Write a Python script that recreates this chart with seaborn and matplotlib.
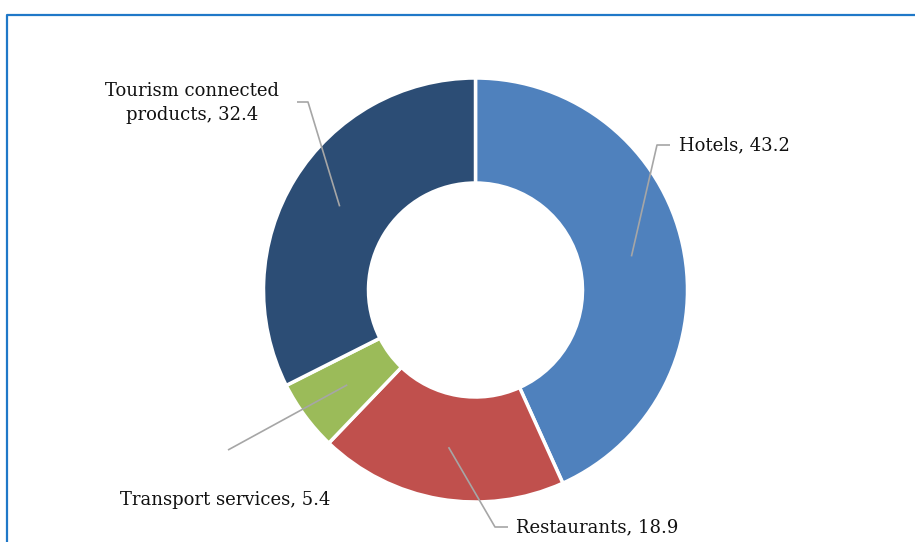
import numpy as np
import matplotlib
matplotlib.use('Agg')
import matplotlib.pyplot as plt
import seaborn as sns

# Chart data
categories = ['Hotels', 'Restaurants', 'Transport services', 'Tourism connected\nproducts']
values = [43.2, 18.9, 5.4, 32.4]
colors = ['#4F81BD', '#C0504D', '#9BBB59', '#2C4D75']

# label placement (pixel coords from top-left), elbow points for leader lines
label_pos = [(679, 145), (516, 527), (120, 500), (192, 103)]
label_ha = ['left', 'left', 'left', 'center']
elbow_pts = [[(657, 145), (670, 145)], [(495, 527), (508, 527)], [(228, 450)], [(308, 102), (297, 102)]]

sns.set_theme(style='white')
plt.rcParams['font.family'] = ['DejaVu Serif']

W, H = 915, 542
fig = plt.figure(figsize=(W / 100, H / 100), dpi=100)
ax = fig.add_axes([0, 0, 1, 1])

cx, cy = 475.5, 290
r_out, r_in = 212, 107

# draw donut (y axis inverted, so counterclock=True appears clockwise)
wedges, _ = ax.pie(values, colors=colors, startangle=-90, counterclock=True,
                   center=(cx, cy), radius=r_out, frame=True,
                   wedgeprops=dict(width=r_out - r_in, edgecolor='white', linewidth=2.5))
ax.set_xlim(0, W)
ax.set_ylim(H, 0)
ax.set_aspect('equal')
ax.axis('off')

# leader lines + labels
total = sum(values)
cum = 0
r_mid = (r_out + r_in) / 2
for i, (cat, v) in enumerate(zip(categories, values)):
    mid = (cum + v / 2) / total * 2 * np.pi
    cum += v
    ax_pt = (cx + r_mid * np.sin(mid), cy - r_mid * np.cos(mid))
    pts = [ax_pt] + elbow_pts[i]
    xs, ys = zip(*pts)
    ax.plot(xs, ys, color='#a6a6a6', lw=1.2, solid_capstyle='butt')
    ax.text(label_pos[i][0], label_pos[i][1], f'{cat}, {v}', ha=label_ha[i], va='center',
            fontsize=13, color='#111111', linespacing=1.4,
            multialignment='center')

# outer frame (top and left edges)
ax.plot([7, 7, W + 5], [H + 5, 15, 15], color='#1f78c8', lw=1.6, clip_on=False)

fig.savefig('out.png', dpi=100)
